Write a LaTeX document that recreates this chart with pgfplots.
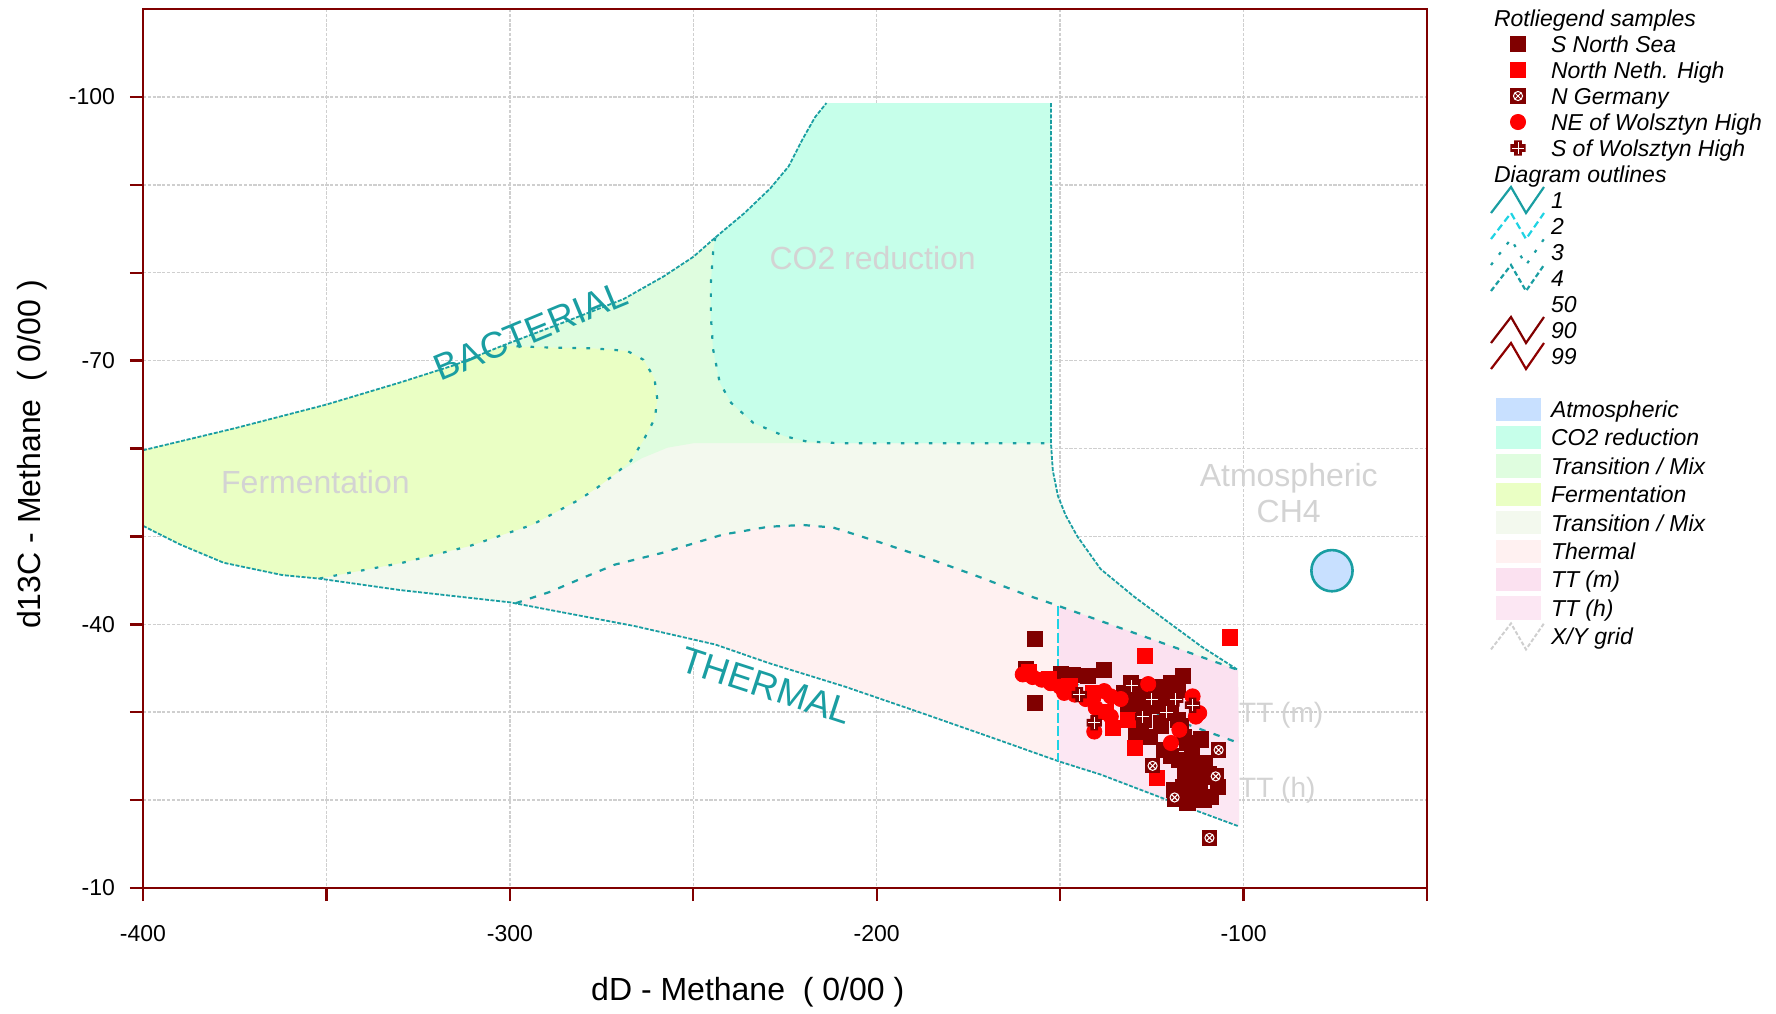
\documentclass[border=0pt]{standalone}
\usepackage{fontspec}
\setmainfont{Liberation Sans}
\usepackage{pgfplots}
\pgfplotsset{compat=1.18}
\usetikzlibrary{calc}

\definecolor{axred}{HTML}{800000}
\definecolor{teal1}{HTML}{1A9EA2}
\definecolor{cyan2}{HTML}{1FD3E3}
\definecolor{gridc}{HTML}{CFCFCF}
\definecolor{lblg}{HTML}{D3D3D3}
\definecolor{cCO}{HTML}{C6FFEA}
\definecolor{cTU}{HTML}{DFFDDF}
\definecolor{cFe}{HTML}{EAFFC4}
\definecolor{cTL}{HTML}{F3F9EE}
\definecolor{cTh}{HTML}{FFF1F1}
\definecolor{cTm}{HTML}{FBE1F0}
\definecolor{cThh}{HTML}{FCE7F3}
\definecolor{cAt}{HTML}{C8E0FF}
\definecolor{nnred}{HTML}{FF0000}
\definecolor{dkm}{HTML}{800000}
\definecolor{dk99}{HTML}{8E0000}

\pgfdeclareplotmark{ngerm}{%
  \pgfpathrectangle{\pgfqpoint{-\pgfplotmarksize}{-\pgfplotmarksize}}{\pgfqpoint{2\pgfplotmarksize}{2\pgfplotmarksize}}%
  \pgfusepathqfill
  \pgfsetstrokecolor{white}\pgfsetlinewidth{0.5pt}%
  \pgfpathcircle{\pgfpointorigin}{0.6\pgfplotmarksize}%
  \pgfpathmoveto{\pgfqpoint{-0.45\pgfplotmarksize}{-0.45\pgfplotmarksize}}%
  \pgfpathlineto{\pgfqpoint{0.45\pgfplotmarksize}{0.45\pgfplotmarksize}}%
  \pgfpathmoveto{\pgfqpoint{-0.45\pgfplotmarksize}{0.45\pgfplotmarksize}}%
  \pgfpathlineto{\pgfqpoint{0.45\pgfplotmarksize}{-0.45\pgfplotmarksize}}%
  \pgfusepathqstroke
}
\pgfdeclareplotmark{swcross}{%
  \pgfpathmoveto{\pgfqpoint{-0.5\pgfplotmarksize}{-\pgfplotmarksize}}%
  \pgfpathlineto{\pgfqpoint{0.5\pgfplotmarksize}{-\pgfplotmarksize}}%
  \pgfpathlineto{\pgfqpoint{0.5\pgfplotmarksize}{-0.5\pgfplotmarksize}}%
  \pgfpathlineto{\pgfqpoint{\pgfplotmarksize}{-0.5\pgfplotmarksize}}%
  \pgfpathlineto{\pgfqpoint{\pgfplotmarksize}{0.5\pgfplotmarksize}}%
  \pgfpathlineto{\pgfqpoint{0.5\pgfplotmarksize}{0.5\pgfplotmarksize}}%
  \pgfpathlineto{\pgfqpoint{0.5\pgfplotmarksize}{\pgfplotmarksize}}%
  \pgfpathlineto{\pgfqpoint{-0.5\pgfplotmarksize}{\pgfplotmarksize}}%
  \pgfpathlineto{\pgfqpoint{-0.5\pgfplotmarksize}{0.5\pgfplotmarksize}}%
  \pgfpathlineto{\pgfqpoint{-\pgfplotmarksize}{0.5\pgfplotmarksize}}%
  \pgfpathlineto{\pgfqpoint{-\pgfplotmarksize}{-0.5\pgfplotmarksize}}%
  \pgfpathlineto{\pgfqpoint{-0.5\pgfplotmarksize}{-0.5\pgfplotmarksize}}%
  \pgfpathclose
  \pgfusepathqfill
  \pgfsetstrokecolor{white}\pgfsetlinewidth{0.4pt}%
  \pgfpathmoveto{\pgfqpoint{-0.8\pgfplotmarksize}{0pt}}%
  \pgfpathlineto{\pgfqpoint{0.8\pgfplotmarksize}{0pt}}%
  \pgfpathmoveto{\pgfqpoint{0pt}{-0.8\pgfplotmarksize}}%
  \pgfpathlineto{\pgfqpoint{0pt}{0.8\pgfplotmarksize}}%
  \pgfusepathqstroke
}

\pgfplotsset{
  zig/.style={legend image code/.code={\draw[##1,overlay] (0pt,-6.5pt) -- (10pt,6.5pt) -- (17.5pt,-6.5pt) -- (26.5pt,6.5pt);\path[draw=none,fill=none] (0pt,-1pt) rectangle (26.5pt,1pt);}},
  swatch/.style={legend image code/.code={\path[##1,draw=none,overlay] (2.5pt,-5.8pt) rectangle (25pt,5.8pt);\path[draw=none,fill=none] (0pt,-1pt) rectangle (26.5pt,1pt);}},
  mk/.style={legend image code/.code={\path[##1,draw=none,overlay] plot coordinates {(13.5pt,0pt)};\path[draw=none,fill=none] (0pt,-1pt) rectangle (26.5pt,1pt);}},
  hdr/.style={legend image code/.code={\path[draw=none,fill=none] (0pt,-1pt) rectangle (26.5pt,1pt);}},
  outer/.style={teal1, line width=0.9pt, dash pattern=on 2pt off 0.8pt},
  dotl/.style={teal1, line width=1.1pt, dash pattern=on 1.8pt off 5.2pt},
  dashl/.style={teal1, line width=1.1pt, dash pattern=on 3.2pt off 4.3pt},
}
\newcommand\sA{\rule[-2.4pt]{0pt}{13pt}}
\newcommand\sB{\rule[-3pt]{0pt}{14.2pt}}

\begin{document}
\begin{tikzpicture}
\begin{axis}[
  at={(0,0)}, anchor=south west,
  scale only axis, width=642pt, height=439.5pt,
  xmin=-400, xmax=-50, ymin=-110, ymax=-10, y dir=reverse,
  clip=false,
  xtick={-400,-350,...,-50}, xticklabels={-400,,-300,,-200,,-100,},
  ytick={-100,-90,...,-10}, yticklabels={-100,,,-70,,,-40,,,-10},
  xtick pos=left, ytick pos=left, tick align=outside,
  major tick length=6.5pt,
  tick style={axred, line width=1.2pt},
  axis line style={axred, line width=1.2pt},
  grid=major,
  major grid style={gridc, dash pattern=on 1.6pt off 0.8pt, line width=0.75pt},
  tick label style={font=\fontsize{11.5}{13}\selectfont},
  xticklabel style={yshift=-8.5pt},
  yticklabel style={xshift=-4pt},
  xlabel={dD - Methane\ \ ( 0/00 )},
  ylabel={d13C - Methane\ \ ( 0/00 )},
  label style={font=\fontsize{16}{18}\selectfont},
  xlabel style={at={($(axis description cs:0.471,0)+(0pt,-52pt)$)}, anchor=center},
  ylabel style={at={($(axis description cs:0,0.5)+(-55.5pt,-3pt)$)}, anchor=center},
  legend cell align=left,
  legend style={at={(rel axis cs:1,1)}, anchor=north west, xshift=32pt, yshift=2pt,
    draw=none, fill=none, inner sep=0pt, outer sep=0pt, row sep=0pt, column sep=3.5pt,
    font=\fontsize{11.5}{13}\selectfont\itshape, nodes={inner sep=0pt, text depth={}}},
]
% ---- region fills ----
\addplot[fill=cTL, draw=none, forget plot] coordinates {
(-400,-59.8) (-375,-62.3) (-350,-65.0) (-330,-67.5) (-315,-69.5) (-302,-71.7) (-285,-74.4) (-269,-77.0) (-258,-79.6) (-250,-81.8) (-244,-84.0) (-236,-86.8) (-229,-89.6) (-224,-92.1) (-220.2,-95.2) (-216.8,-97.7) (-213.7,-99.3)
(-152.5,-99.3) (-152.5,-60.6) (-152.0,-57.5) (-150.6,-54.6) (-148.5,-52.4) (-145.3,-50.0) (-139.0,-46.3) (-130.0,-43.2) (-120.7,-40.3) (-111.6,-37.5) (-101.5,-34.8)
(-101.2,-17.0) (-120.7,-20.0) (-138.9,-22.9) (-150.3,-24.4) (-166.5,-26.8) (-187.7,-29.9) (-208.6,-32.9) (-229.5,-35.6) (-244,-37.7) (-266,-39.8) (-300,-42.5) (-330,-43.9) (-352,-45.2) (-362,-45.6) (-378,-47.0) (-390,-49.1) (-400,-51.2)
} -- cycle;
\addplot[fill=cTU, draw=none, forget plot] coordinates {
(-302,-71.7) (-285,-74.4) (-269,-77.0) (-258,-79.6) (-250,-81.8) (-244,-84.0) (-236,-86.8) (-229,-89.6) (-224,-92.1) (-220.2,-95.2) (-216.8,-97.7) (-213.7,-99.3)
(-152.5,-99.3) (-152.5,-60.6) (-250,-60.6) (-257,-60.1) (-264,-58.9) (-272,-56.9)
(-271,-57.2) (-267,-58.6) (-263.5,-61.0) (-260.5,-63.4) (-259.8,-65.6) (-260.6,-68.0) (-263.6,-70.1) (-268,-71.1) (-277.5,-71.4) (-290,-71.5)
} -- cycle;
\addplot[fill=cCO, draw=none, forget plot] coordinates {
(-244,-84.0) (-244.6,-82.3) (-245.2,-78.9) (-245.2,-75.0) (-244.6,-71.3) (-242.8,-67.5) (-239.7,-65.2) (-233.6,-62.9) (-225.1,-61.4) (-219.1,-60.8) (-210,-60.6) (-152.5,-60.6)
(-152.5,-99.3) (-213.7,-99.3) (-216.8,-97.7) (-220.2,-95.2) (-224,-92.1) (-229,-89.6) (-236,-86.8)
} -- cycle;
\addplot[fill=cFe, draw=none, forget plot] coordinates {
(-400,-59.8) (-375,-62.3) (-350,-65.0) (-330,-67.5) (-315,-69.5) (-302,-71.7)
(-290,-71.5) (-277.5,-71.4) (-268,-71.1) (-263.6,-70.1) (-260.6,-68.0) (-259.8,-65.6) (-260.5,-63.4) (-263.5,-61.0) (-267,-58.6) (-271,-57.2) (-276,-55.6) (-281,-54.2) (-294,-51.3) (-311,-48.9) (-329.3,-47.0) (-352,-45.2)
(-362,-45.6) (-378,-47.0) (-390,-49.1) (-400,-51.2)
} -- cycle;
\addplot[fill=cTh, draw=none, forget plot] coordinates {
(-298.4,-42.4) (-289,-43.7) (-280,-45.3) (-271.3,-46.8) (-258.7,-48.1) (-242,-50.2) (-229.5,-51.1) (-220.1,-51.3) (-211.8,-51.0) (-198.2,-49.2) (-184.6,-47.3) (-172.1,-45.4) (-159.6,-43.4) (-150.5,-42.1)
(-150.5,-24.4) (-166.5,-26.8) (-187.7,-29.9) (-208.6,-32.9) (-229.5,-35.6) (-244,-37.7) (-266,-39.8)
} -- cycle;
\addplot[fill=cTm, draw=none, forget plot] coordinates {
(-150.5,-42.1) (-101.5,-34.8) (-101.3,-26.5) (-150.5,-33.9)
} -- cycle;
\addplot[fill=cThh, draw=none, forget plot] coordinates {
(-150.5,-33.9) (-101.3,-26.5) (-101.2,-17.0) (-120.7,-20.0) (-138.9,-22.9) (-150.5,-24.4)
} -- cycle;
% ---- outlines ----
\addplot[outer, forget plot] coordinates {
(-400,-59.8) (-375,-62.3) (-350,-65.0) (-330,-67.5) (-315,-69.5) (-302,-71.7) (-285,-74.4) (-269,-77.0) (-258,-79.6) (-250,-81.8) (-244,-84.0) (-236,-86.8) (-229,-89.6) (-224,-92.1) (-220.2,-95.2) (-216.8,-97.7) (-213.7,-99.3)};
\addplot[outer, forget plot] coordinates {
(-152.5,-99.3) (-152.5,-60.6) (-152.0,-57.5) (-150.6,-54.6) (-148.5,-52.4) (-145.3,-50.0) (-139.0,-46.3) (-130.0,-43.2) (-120.7,-40.3) (-111.6,-37.5) (-101.5,-34.8)};
\addplot[outer, forget plot] coordinates {
(-400,-51.2) (-390,-49.1) (-378,-47.0) (-362,-45.6) (-352,-45.2) (-330,-43.9) (-300,-42.5) (-266,-39.8) (-244,-37.7) (-229.5,-35.6) (-208.6,-32.9) (-187.7,-29.9) (-166.5,-26.8) (-150.3,-24.4) (-138.9,-22.9) (-120.7,-20.0) (-101.2,-17.0)};
\addplot[dotl, forget plot] coordinates {
(-302,-71.7) (-290,-71.5) (-277.5,-71.4) (-268,-71.1) (-263.6,-70.1) (-260.6,-68.0) (-259.8,-65.6) (-260.5,-63.4) (-263.5,-61.0) (-267,-58.6) (-271,-57.2) (-276,-55.6) (-281,-54.2) (-294,-51.3) (-311,-48.9) (-329.3,-47.0) (-352,-45.2)};
\addplot[dotl, forget plot] coordinates {
(-244,-84.0) (-244.6,-82.3) (-245.2,-78.9) (-245.2,-75.0) (-244.6,-71.3) (-242.8,-67.5) (-239.7,-65.2) (-233.6,-62.9) (-225.1,-61.4) (-219.1,-60.8) (-210,-60.6) (-152.5,-60.6)};
\addplot[dashl, forget plot] coordinates {
(-298.4,-42.4) (-289,-43.7) (-280,-45.3) (-271.3,-46.8) (-258.7,-48.1) (-242,-50.2) (-229.5,-51.1) (-220.1,-51.3) (-211.8,-51.0) (-198.2,-49.2) (-184.6,-47.3) (-172.1,-45.4) (-159.6,-43.4) (-150.5,-42.1) (-101.5,-34.8)};
\addplot[dashl, forget plot] coordinates {(-150.5,-33.9) (-101.3,-26.5)};
\addplot[cyan2, line width=1pt, dash pattern=on 5pt off 1.7pt, forget plot] coordinates {(-150.5,-42.1) (-150.5,-24.4)};
\addplot[only marks, mark=*, mark size=10.3pt, mark options={fill=cAt, draw=teal1, line width=1.3pt}, forget plot] coordinates {(-75.9,-46.1)};
% ---- region labels ----
\node[lblg, font=\fontsize{16}{18}\selectfont] at (axis cs:-201.1,-81.7) {CO2 reduction};
\node[lblg, font=\fontsize{16}{18}\selectfont] at (axis cs:-353,-56.2) {Fermentation};
\node[lblg, align=center, font=\fontsize{16}{18}\selectfont] at (axis cs:-87.7,-54.9) {Atmospheric\\CH4};
\node[lblg, anchor=west, inner sep=0pt, font=\fontsize{14}{16}\selectfont] at (axis cs:-101.3,-29.6) {TT (m)};
\node[lblg, anchor=west, inner sep=0pt, font=\fontsize{14}{16}\selectfont] at (axis cs:-101.3,-21.1) {TT (h)};
\node[teal1, rotate=22.5, inner sep=0pt, font=\fontsize{18.5}{20}\selectfont] at (axis cs:-294.3,-73.4) {BACTERIAL};
\node[teal1, rotate=-18, inner sep=0pt, font=\fontsize{18.5}{20}\selectfont] at (axis cs:-230.1,-33.0) {THERMAL};
% ---- samples ----
\addplot[only marks, mark=square*, mark size=3.8pt, color=dkm, forget plot] coordinates {
(-156.9,-38.3) (-156.9,-31.1) (-159.4,-34.9) (-149.8,-34.3) (-146.5,-34.2) (-142.5,-34.1) (-138.0,-34.8) (-116.6,-34.1) (-132.6,-32.2) (-130.7,-33.3) (-127.1,-32.9) (-123.5,-32.9) (-119.8,-33.3) (-129.8,-32.2) (-126.2,-32.6) (-121.7,-32.9) (-118.0,-32.6) (-131.6,-30.3) (-129.2,-31.0) (-124.6,-30.7) (-121.0,-31.0) (-128.0,-30.3) (-123.5,-30.7) (-119.8,-29.9) (-127.1,-29.1) (-122.6,-28.8) (-118.0,-29.1) (-128.0,-28.4) (-122.6,-28.4) (-117.1,-28.4) (-129.2,-27.6) (-125.5,-27.2) (-116.2,-27.2) (-115.3,-26.5) (-111.6,-26.9) (-121.7,-25.7) (-119.8,-25.0) (-117.6,-24.6) (-114.0,-25.5) (-112.6,-23.4) (-114.5,-24.0) (-110.5,-24.2) (-116.0,-22.8) (-112.0,-22.0) (-107.6,-22.7) (-107.1,-21.5) (-109.5,-23.0) (-113.5,-21.2) (-118.9,-21.2) (-116.5,-21.5) (-108.9,-20.4) (-110.8,-20.0) (-112.5,-20.5) (-115.3,-19.7) (-118.6,-20.1)};
\addplot[only marks, mark=square*, mark size=3.8pt, color=nnred, forget plot] coordinates {
(-103.7,-38.5) (-126.8,-36.4) (-129.6,-25.9) (-123.7,-22.5) (-135.7,-28.2) (-131.6,-29.1) (-158.5,-34.6) (-153.0,-33.8) (-147.5,-33.0) (-141.0,-32.2) (-137.5,-30.0)};
\addplot[only marks, mark=ngerm, mark size=3.8pt, color=dkm, forget plot] coordinates {
(-109.3,-15.7) (-124.8,-23.9) (-106.8,-25.7) (-107.6,-22.7) (-118.8,-20.3)};
\addplot[only marks, mark=*, mark size=3.8pt, color=nnred, forget plot] coordinates {
(-160.2,-34.3) (-157.5,-34.0) (-155.0,-33.7) (-152.6,-33.3) (-150.0,-32.9) (-148.9,-32.2) (-146.0,-32.0) (-143.0,-31.5) (-138.0,-32.4) (-136.2,-31.8) (-140.3,-30.5) (-136.2,-29.5) (-140.7,-27.8) (-133.5,-31.5) (-113.9,-31.8) (-113.0,-29.5) (-112.1,-29.9) (-119.8,-26.5) (-117.5,-28.0) (-126.0,-33.2)};
\addplot[only marks, mark=swcross, mark size=3.8pt, color=dkm, forget plot] coordinates {
(-144.8,-32.0) (-140.7,-28.8) (-113.9,-30.8) (-130.5,-33.0) (-125.0,-31.5) (-121.0,-30.0) (-127.5,-29.5) (-118.5,-31.5)};
% frame
\draw[axred, line width=1.2pt] (rel axis cs:0,0) rectangle (rel axis cs:1,1);
% ---- legend ----
\addlegendimage{hdr}\addlegendentry{\sA\hspace*{-28.5pt}Rotliegend samples}
\addlegendimage{mk, only marks, mark=square*, mark size=3.8pt, color=dkm}\addlegendentry{\sA S North Sea}
\addlegendimage{mk, only marks, mark=square*, mark size=3.8pt, color=nnred}\addlegendentry{\sA North Neth. High}
\addlegendimage{mk, only marks, mark=ngerm, mark size=3.8pt, color=dkm}\addlegendentry{\sA N Germany}
\addlegendimage{mk, only marks, mark=*, mark size=3.8pt, color=nnred}\addlegendentry{\sA NE of Wolsztyn High}
\addlegendimage{mk, only marks, mark=swcross, mark size=3.8pt, color=dkm}\addlegendentry{\sA S of Wolsztyn High}
\addlegendimage{hdr}\addlegendentry{\sA\hspace*{-28.5pt}Diagram outlines}
\addlegendimage{zig, teal1, line width=1.1pt}\addlegendentry{\sA 1}
\addlegendimage{zig, cyan2, line width=1.1pt, dash pattern=on 3.5pt off 2pt}\addlegendentry{\sA 2}
\addlegendimage{zig, teal1, line width=1.1pt, dash pattern=on 1.5pt off 5pt}\addlegendentry{\sA 3}
\addlegendimage{zig, teal1, line width=1.1pt, dash pattern=on 2.5pt off 1.5pt}\addlegendentry{\sA 4}
\addlegendimage{hdr}\addlegendentry{\sA 50}
\addlegendimage{zig, axred, line width=1.1pt}\addlegendentry{\sA 90}
\addlegendimage{zig, dk99, line width=1.1pt}\addlegendentry{\sA 99}
\addlegendimage{hdr}\addlegendentry{\sA}
\addlegendimage{swatch, fill=cAt}\addlegendentry{\sB Atmospheric}
\addlegendimage{swatch, fill=cCO}\addlegendentry{\sB CO2 reduction}
\addlegendimage{swatch, fill=cTU}\addlegendentry{\sB Transition / Mix}
\addlegendimage{swatch, fill=cFe}\addlegendentry{\sB Fermentation}
\addlegendimage{swatch, fill=cTL}\addlegendentry{\sB Transition / Mix}
\addlegendimage{swatch, fill=cTh}\addlegendentry{\sB Thermal}
\addlegendimage{swatch, fill=cTm}\addlegendentry{\sB TT (m)}
\addlegendimage{swatch, fill=cThh}\addlegendentry{\sB TT (h)}
\addlegendimage{zig, gridc, line width=1pt, dash pattern=on 2pt off 1pt}\addlegendentry{\sB X/Y grid}
\end{axis}
\path[use as bounding box] (-71.5pt,-61pt) rectangle (816.5pt,444pt);
\end{tikzpicture}
\end{document}
